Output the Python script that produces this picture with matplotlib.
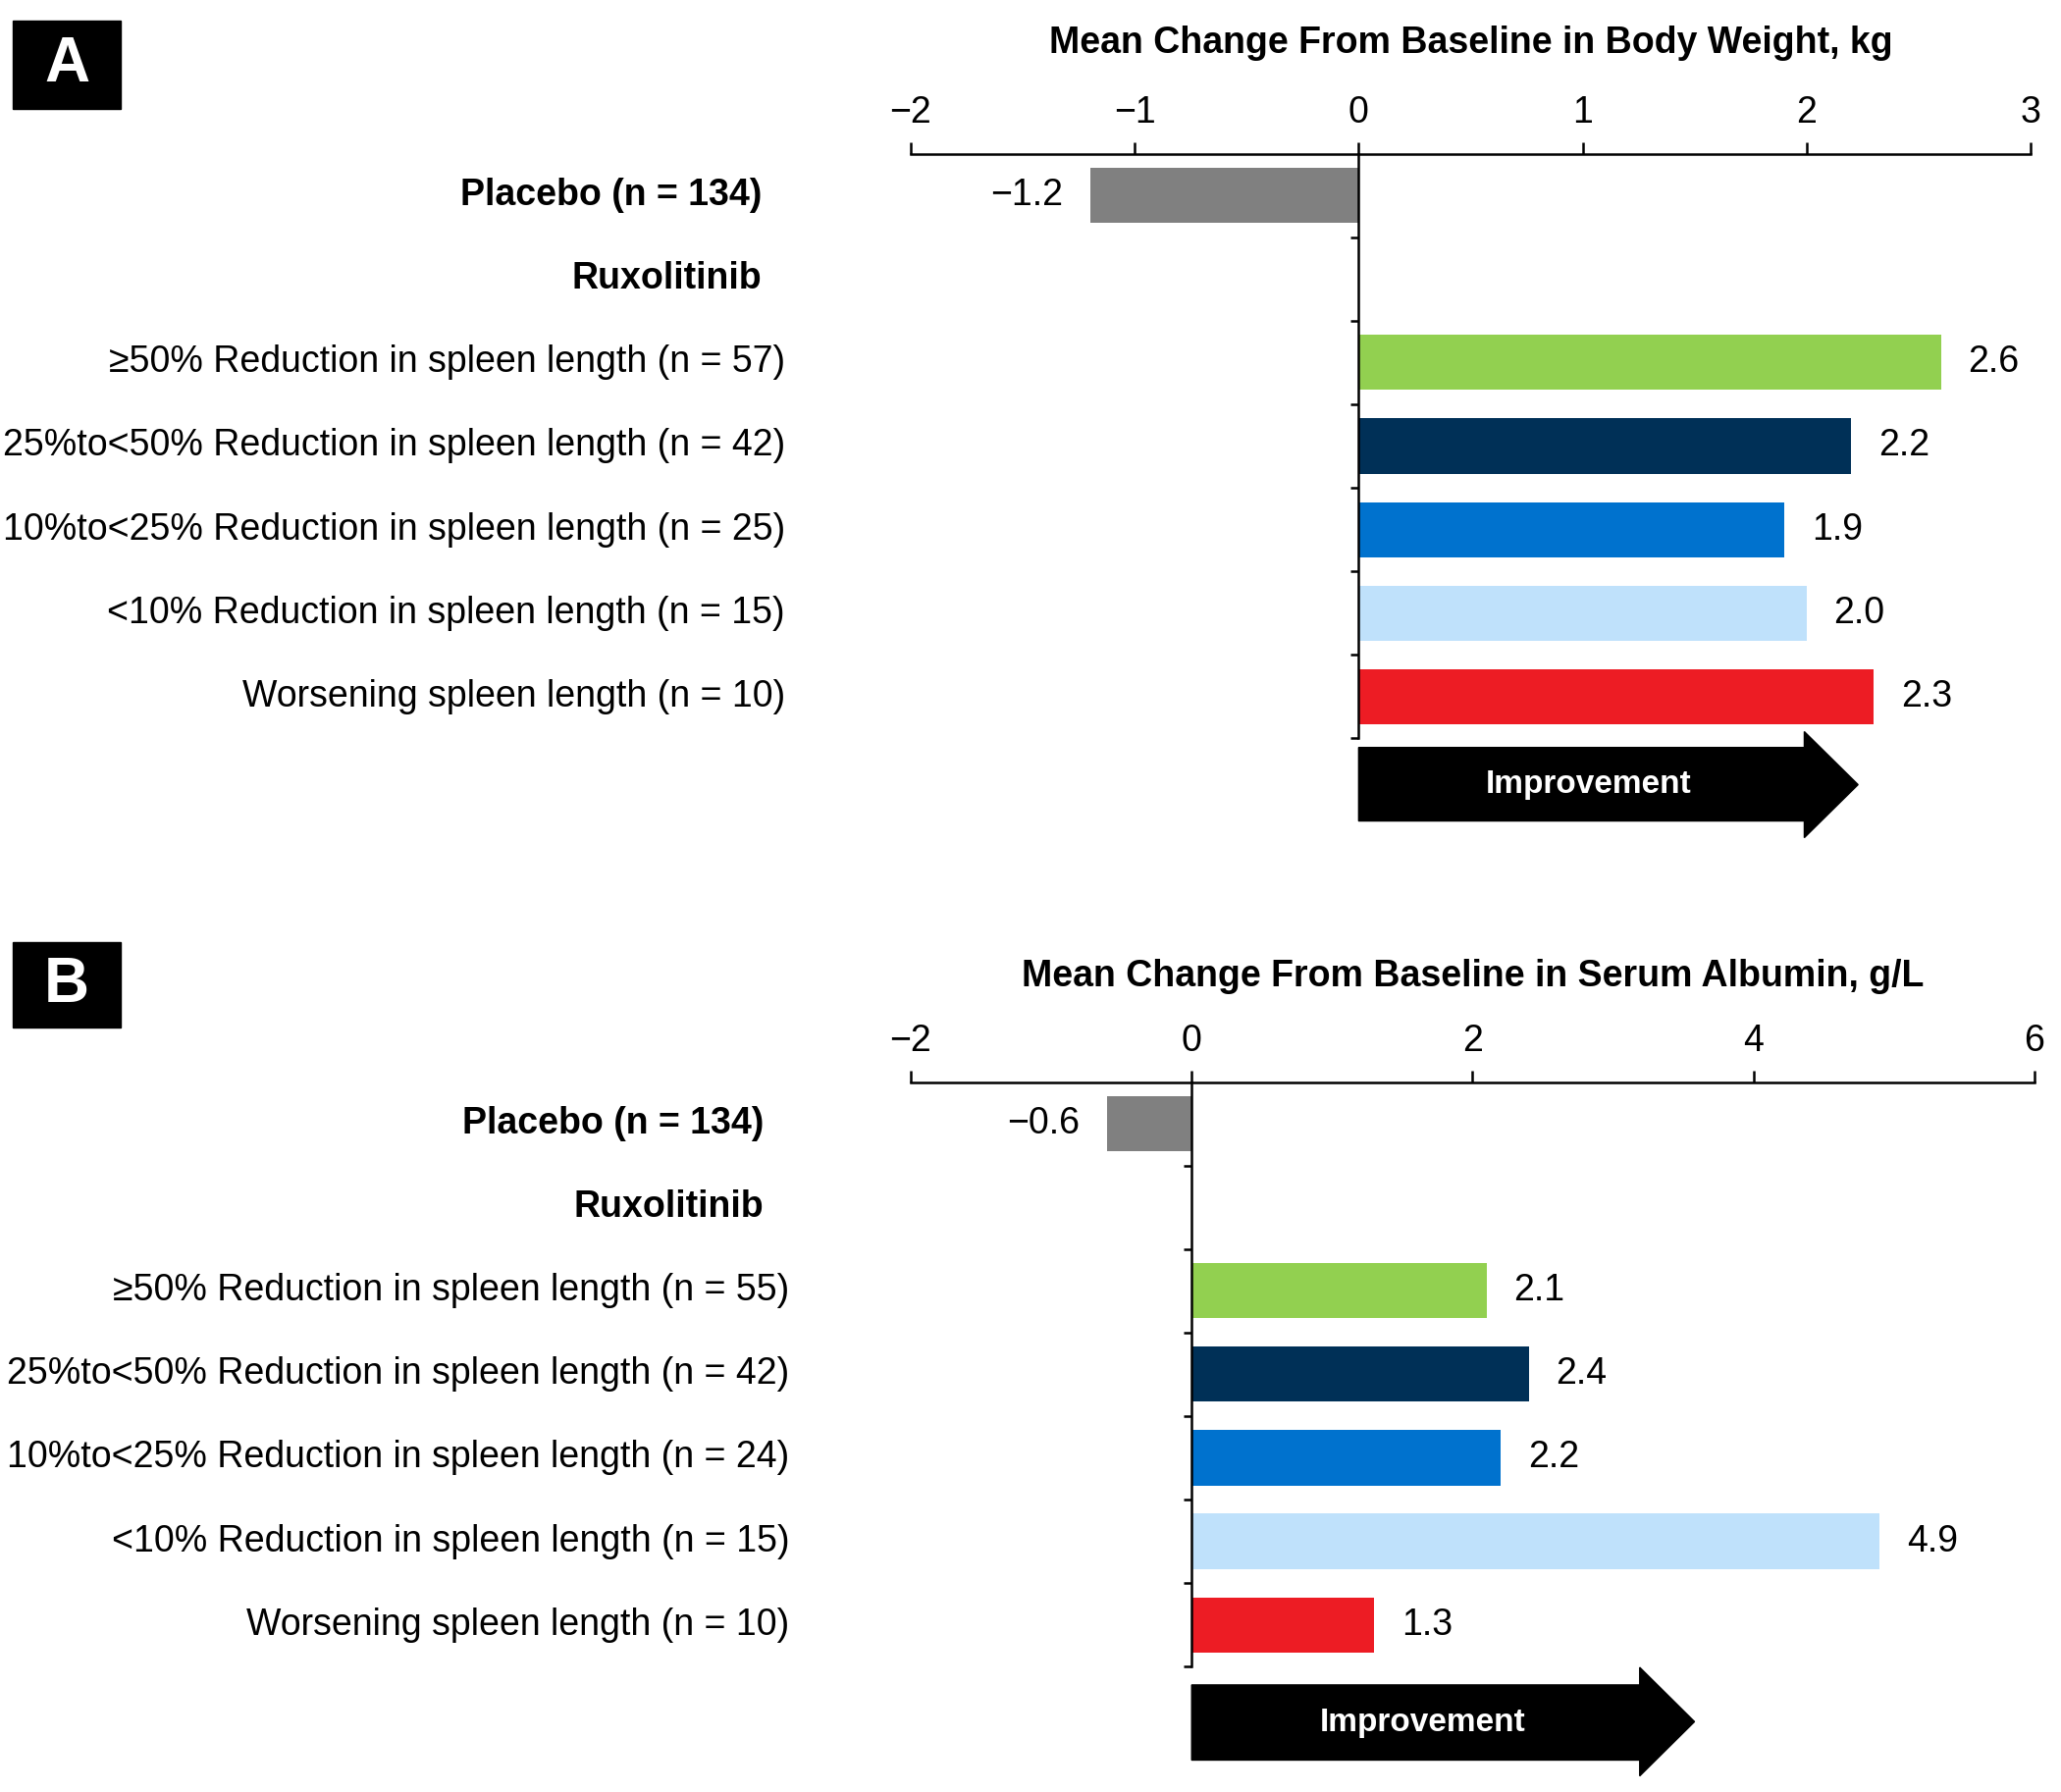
"""
Ruxolitinib: change from baseline in body weight (A) and serum albumin (B)
by degree of spleen length reduction
"""

import numpy as np
import matplotlib.pyplot as plt
from matplotlib.patches import Rectangle, Polygon
from matplotlib.transforms import blended_transform_factory

plt.rcParams['font.family'] = ['Liberation Sans', 'DejaVu Sans']

# ── data ─────────────────────────────────────────────────────────────────────
row_labels_a = ['Placebo (n = 134)', 'Ruxolitinib',
                '≥50% Reduction in spleen length (n = 57)',
                '25%to<50% Reduction in spleen length (n = 42)',
                '10%to<25% Reduction in spleen length (n = 25)',
                '<10% Reduction in spleen length (n = 15)',
                'Worsening spleen length (n = 10)']
row_labels_b = ['Placebo (n = 134)', 'Ruxolitinib',
                '≥50% Reduction in spleen length (n = 55)',
                '25%to<50% Reduction in spleen length (n = 42)',
                '10%to<25% Reduction in spleen length (n = 24)',
                '<10% Reduction in spleen length (n = 15)',
                'Worsening spleen length (n = 10)']
bold_rows = [0, 1]

weight_change = [-1.2, np.nan, 2.6, 2.2, 1.9, 2.0, 2.3]
albumin_change = [-0.6, np.nan, 2.1, 2.4, 2.2, 4.9, 1.3]

xticks_a = [-2, -1, 0, 1, 2, 3]
xticks_b = [-2, 0, 2, 4, 6]

bar_colors = ['#808080', 'none', '#92D050', '#003057', '#0072CE', '#BFE1FB', '#ED1C24']

FS = 27

# ── figure ───────────────────────────────────────────────────────────────────
fig = plt.figure(figsize=(21, 18.26), dpi=100)

ax_a = fig.add_axes([0.4419, 0.5880, 0.5433, 0.3262])
ax_b = fig.add_axes([0.4419, 0.0700, 0.5452, 0.3262])


def draw_panel(ax, labels, values, xticks, title, title_y, label_x, bold_x, arrow):
    y = np.arange(len(labels))
    ax.barh(y, values, height=0.66, color=bar_colors, zorder=2)

    ax.set_xlim(xticks[0], xticks[-1])
    ax.set_ylim(6.5, -0.5)

    ax.xaxis.tick_top()
    ax.set_xticks(xticks)
    ax.set_xticklabels([f'{t}'.replace('-', '\u2212') for t in xticks], fontsize=FS)
    ax.tick_params(axis='x', direction='out', length=9, width=1.8, pad=8)

    # title placed by hand (figure y)
    ttrans = blended_transform_factory(ax.transAxes, fig.transFigure)
    ax.text(0.5, title_y, title, transform=ttrans, ha='center', va='center',
            fontsize=FS, fontweight='bold')

    ax.set_yticks(np.arange(0.5, 7, 1))
    ax.set_yticklabels([])
    ax.tick_params(axis='y', direction='out', length=6, width=1.8)

    for s in ['bottom', 'right']:
        ax.spines[s].set_visible(False)
    ax.spines['top'].set_linewidth(1.8)
    ax.spines['left'].set_linewidth(1.8)
    ax.spines['left'].set_position(('data', 0))

    # row labels on the left, in figure x / data y
    trans = blended_transform_factory(fig.transFigure, ax.transData)
    for i, lab in enumerate(labels):
        if i in bold_rows:
            ax.text(bold_x, i, lab, transform=trans, ha='right', va='center',
                    fontsize=FS, fontweight='bold')
        else:
            ax.text(label_x, i, lab, transform=trans, ha='right', va='center',
                    fontsize=FS)

    # value labels
    for i, v in enumerate(values):
        if np.isnan(v):
            continue
        txt = f'{v:.1f}'.replace('-', '\u2212')
        off = 20 if v > 0 else -20
        ax.annotate(txt, (v, i), xytext=(off, 0), textcoords='offset points',
                    ha='left' if v > 0 else 'right', va='center', fontsize=FS)

    # "Improvement" arrow below the bars
    x0, xb, xt, yb0, yb1, yh0, yh1 = arrow
    pts = [(x0, yb0), (xb, yb0), (xb, yh0), (xt, (yh0 + yh1) / 2),
           (xb, yh1), (xb, yb1), (x0, yb1)]
    ax.add_patch(Polygon(pts, closed=True, color='black', clip_on=False, zorder=3))
    ax.text((x0 + xb) / 2 * 1.03, (yb0 + yb1) / 2, 'Improvement', color='white',
            ha='center', va='center', fontsize=24, fontweight='bold', zorder=4)


draw_panel(ax_a, row_labels_a, weight_change, xticks_a,
           'Mean Change From Baseline in Body Weight, kg', 0.9757,
           0.381, 0.3695, (0.0, 1.99, 2.23, 6.61, 7.49, 6.42, 7.69))
draw_panel(ax_b, row_labels_b, albumin_change, xticks_b,
           'Mean Change From Baseline in Serum Albumin, g/L', 0.4551,
           0.383, 0.3705, (0.0, 3.19, 3.58, 6.72, 7.62, 6.51, 7.81))

# panel letters
for letter, y0, h in [('A', 0.9392, 0.0493), ('B', 0.4266, 0.0476)]:
    fig.add_artist(Rectangle((0.0062, y0), 0.0524, h, transform=fig.transFigure,
                             color='black'))
    fig.text(0.0062 + 0.0262, y0 + h / 2, letter, color='white', ha='center',
             va='center', fontsize=46, fontweight='bold')

fig.savefig('out.png', dpi=100)
plt.close(fig)
